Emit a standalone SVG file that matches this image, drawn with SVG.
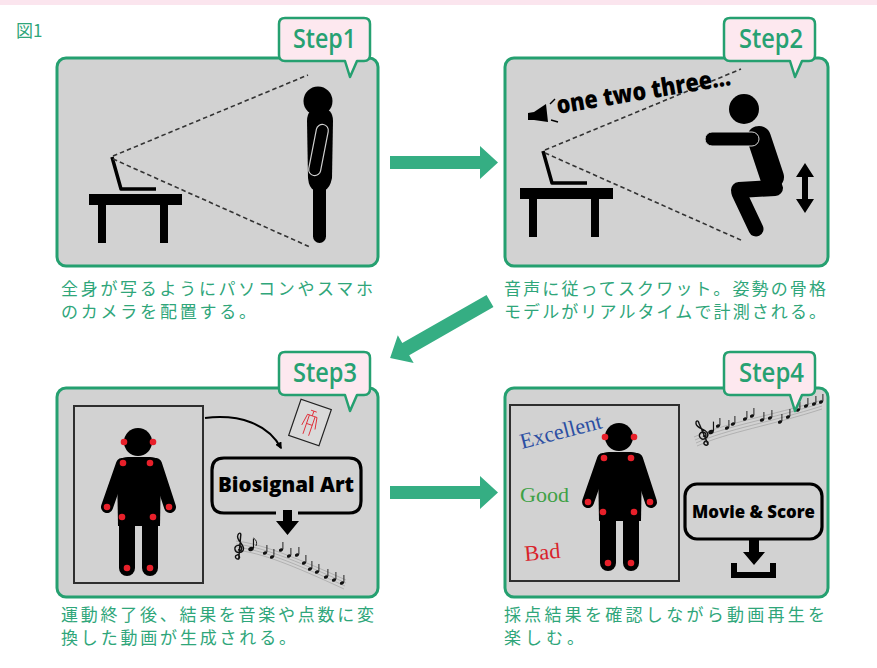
<svg xmlns="http://www.w3.org/2000/svg" xmlns:xlink="http://www.w3.org/1999/xlink" width="877" height="668" viewBox="0 0 877 668">
  <style>
    .panel { fill: #d2d2d2; stroke: #25a070; stroke-width: 3; }
    .tab { fill: #fde8ef; stroke: #25a070; stroke-width: 2.5; stroke-linejoin: round; }
    .step { font-family: "Open Sans", "Noto Sans", sans-serif; font-weight: 600; font-size: 27px; fill: #27a172; }
    .cap { font-family: "Noto Sans CJK JP", "Noto Sans", sans-serif; font-size: 17px; fill: #2fa67a; }
    .flow { fill: #35ae83; }
    .dash { stroke: #333; stroke-width: 1.6; stroke-dasharray: 4.5 3; fill: none; }
    .frame { fill: none; stroke: #2e2e2e; stroke-width: 2; }
    .box { fill: none; stroke: #000; stroke-width: 3.2; }
    .boxtxt { font-family: "Open Sans", "Liberation Sans", sans-serif; font-weight: 800; fill: #000; }
    .dot { fill: #e8202a; }
    .staff { fill: none; stroke: #9a9a9a; stroke-width: 0.6; }
    .stem { stroke: #111; stroke-width: 0.9; fill: none; }
    .serif { font-family: "Liberation Serif", "Times New Roman", serif; font-size: 22px; }
  </style>
  <defs>
    <!-- speech-bubble tab, origin at its top-left corner -->
    <path id="tabShape" d="M6,0 H85 Q91,0 91,6 V37 Q91,43 85,43 H78 L71,59 L66,43 H6 Q0,43 0,37 V6 Q0,0 6,0 Z"/>
    <!-- standing figure with joint markers -->
    <g id="marker-figure">
      <circle cx="138" cy="442" r="14" fill="#000"/>
      <path d="M117,468 Q117,457 128,457 H150 Q161,457 161,468 L160,526 H118 Z" fill="#000"/>
      <g stroke="#000" stroke-linecap="round" fill="none">
        <line x1="122" y1="464" x2="107" y2="507" stroke-width="12"/>
        <line x1="156" y1="464" x2="170" y2="507" stroke-width="12"/>
        <line x1="127" y1="520" x2="127" y2="568" stroke-width="16"/>
        <line x1="150" y1="520" x2="150" y2="568" stroke-width="16"/>
      </g>
      <g class="dot">
        <circle cx="124" cy="442" r="3.3"/>
        <circle cx="153" cy="442" r="3.3"/>
        <circle cx="123" cy="463" r="3.3"/>
        <circle cx="150" cy="463" r="3.3"/>
        <circle cx="107" cy="507" r="3.3"/>
        <circle cx="169" cy="507" r="3.3"/>
        <circle cx="122" cy="517" r="3.3"/>
        <circle cx="153" cy="517" r="3.3"/>
        <circle cx="127" cy="568" r="3.3"/>
        <circle cx="150" cy="568" r="3.3"/>
      </g>
    </g>
    <!-- desk with laptop -->
    <g id="desk">
      <rect x="0" y="0" width="93" height="11"/>
      <rect x="9" y="11" width="8" height="38"/>
      <rect x="71" y="11" width="8" height="38"/>
      <path d="M23,-37 L32,-5 H67" fill="none" stroke="#000" stroke-width="3.5" stroke-linejoin="round"/>
    </g>
    <!-- treble clef -->
    <path id="clef" d="M5,22 C2,23 0,19 3,18 C5,17 7,20 5,22 M5,22 L7,-2 C8,-6 5,-6 4,-3 C2,2 10,6 10,11 C10,16 2,17 1,12 C0,7 8,6 8,11 C8,14 5,14 5,12" fill="none" stroke="#111" stroke-width="1.5" stroke-linecap="round"/>
    <g id="note">
      <ellipse cx="0" cy="0" rx="2.2" ry="1.6" transform="rotate(-25)" fill="#111"/>
      <path class="stem" d="M1.9,-0.6 V-8"/>
    </g>
    <marker id="headBlk" viewBox="0 0 10 10" refX="8" refY="5" markerWidth="7" markerHeight="7" orient="auto" markerUnits="userSpaceOnUse">
      <path d="M0,0 L10,5 L0,10 Z" fill="#000"/>
    </marker>
  </defs>

  <rect x="0" y="0" width="877" height="668" fill="#fff"/>
  <rect x="0" y="0" width="877" height="5" fill="#fbe5ee"/>
  <text x="16" y="37" font-family="Noto Sans CJK JP, Noto Sans, sans-serif" font-size="17" fill="#2fa67a">図1</text>

  <!-- flow arrows between steps -->
  <g id="connectors">
    <path class="flow" d="M390,156 H480 V146 L498,162.5 L480,179 V169 H390 Z"/>
    <path class="flow" transform="translate(490,301) rotate(150.3)" d="M0,-7 H97 V-16 L115,0 L97,16 V7 H0 Z"/>
    <path class="flow" d="M390,486 H480 V476 L498,492.5 L480,509 V499 H390 Z"/>
  </g>

  <!-- Step 1: camera setup -->
  <g id="step1">
    <rect class="panel" x="57" y="58" width="321" height="208" rx="9"/>
    <use href="#desk" xlink:href="#desk" transform="translate(89,194)"/>
    <line class="dash" x1="113" y1="156" x2="308" y2="75"/>
    <line class="dash" x1="113" y1="159" x2="310" y2="247"/>
    <circle cx="318" cy="101" r="14.5"/>
    <path d="M307,121 Q307,108 320,108 Q333,108 333,121 L332,178 Q330,188 325,190 H314 Q309,188 308,178 Z"/>
    <rect x="313" y="178" width="13" height="65" rx="6.5"/>
    <rect x="-6" y="-26" width="12" height="52" rx="6" transform="translate(318.5,150) rotate(11)" fill="none" stroke="#cfcfcf" stroke-width="1.2"/>
    <use href="#tabShape" xlink:href="#tabShape" class="tab" transform="translate(279,18)"/>
    <text class="step" x="293" y="48" textLength="63" lengthAdjust="spacingAndGlyphs">Step1</text>
    <text class="cap" x="61" y="295" textLength="312" lengthAdjust="spacing">全身が写るようにパソコンやスマホ</text>
    <text class="cap" x="61" y="318" textLength="195" lengthAdjust="spacing">のカメラを配置する。</text>
  </g>

  <!-- Step 2: squat with voice guidance -->
  <g id="step2">
    <rect class="panel" x="505" y="58" width="323" height="208" rx="9"/>
    <use href="#desk" xlink:href="#desk" transform="translate(520,188)"/>
    <line class="dash" x1="545" y1="150" x2="741" y2="69"/>
    <line class="dash" x1="545" y1="153" x2="743" y2="241"/>
    <!-- speaker -->
    <polygon points="528,113 534,112 546,104 548,122 534,120 528,120"/>
    <line x1="550" y1="104" x2="555" y2="99" stroke="#000" stroke-width="1.5"/>
    <line x1="551" y1="120" x2="558" y2="122" stroke="#000" stroke-width="1.5"/>
    <text transform="translate(558,114) rotate(-9.5)" font-family="Open Sans, Liberation Sans, sans-serif" font-weight="800" font-size="25" textLength="176" lengthAdjust="spacingAndGlyphs">one two three...</text>
    <!-- squatting figure -->
    <circle cx="744" cy="109" r="15"/>
    <g stroke="#000" stroke-linecap="round" fill="none">
      <line x1="759" y1="138" x2="772" y2="177" stroke-width="24"/>
      <line x1="739" y1="190" x2="775" y2="188" stroke-width="16"/>
      <line x1="739" y1="193" x2="756" y2="229" stroke-width="15"/>
    </g>
    <rect x="705" y="132" width="54" height="14" rx="7" stroke="#d6d6d6" stroke-width="1"/>
    <path d="M805,163 L814,177 H808 V199 H814 L805,213 L796,199 H802 V177 H796 Z"/>
    <use href="#tabShape" xlink:href="#tabShape" class="tab" transform="translate(724,18)"/>
    <text class="step" x="739" y="48" textLength="64" lengthAdjust="spacingAndGlyphs">Step2</text>
    <text class="cap" x="504" y="295" textLength="322" lengthAdjust="spacing">音声に従ってスクワット。姿勢の骨格</text>
    <text class="cap" x="504" y="318" textLength="322" lengthAdjust="spacing">モデルがリアルタイムで計測される。</text>
  </g>

  <!-- Step 3: conversion to music -->
  <g id="step3">
    <rect class="panel" x="57" y="388" width="321" height="209" rx="9"/>
    <rect class="frame" x="74" y="406" width="129" height="177"/>
    <use href="#marker-figure" xlink:href="#marker-figure"/>
    <path d="M205,418 C240,414 268,424 281,448" fill="none" stroke="#000" stroke-width="2" marker-end="url(#headBlk)"/>
    <!-- skeleton sheet -->
    <g transform="translate(310,422.5) rotate(19)">
      <rect x="-16" y="-19" width="32" height="38" fill="#dadada" stroke="#222" stroke-width="1.2"/>
      <path d="M-3,-12 H3 M0,-12 V-7 M-5,-7 H5 M-5,-7 L-7,5 M5,-7 L7,5 M-3,-7 V13 M3,-7 V13 M-3,2 H3" fill="none" stroke="#e0303a" stroke-width="0.9"/>
    </g>
    <path class="box" d="M276,513 H224 Q212,513 212,501 V470 Q212,458 224,458 H349 Q361,458 361,470 V501 Q361,513 349,513 H298"/>
    <text class="boxtxt" x="218" y="492" font-size="21" textLength="136" lengthAdjust="spacingAndGlyphs">Biosignal Art</text>
    <path d="M283,510 H292 V521 H299 L287.5,535 L276,521 H283 Z"/>
    <!-- musical staff -->
    <g>
      <path class="staff" d="M236,541 C262,544 292,556 346,580"/>
      <path class="staff" d="M236,544 C262,547 292,559 346,583"/>
      <path class="staff" d="M236,547 C262,550 292,562 345,586"/>
      <path class="staff" d="M236,550 C262,553 292,565 344,589"/>
      <use href="#clef" xlink:href="#clef" transform="translate(234,538) scale(0.95)"/>
      <use href="#note" xlink:href="#note" transform="translate(251,549) scale(1.3)"/>
      <path class="stem" d="M253.5,538 Q258,541 256,546"/>
      <use href="#note" xlink:href="#note" transform="translate(265,553)"/>
      <use href="#note" xlink:href="#note" transform="translate(272,557)"/>
      <use href="#note" xlink:href="#note" transform="translate(281,550)"/>
      <use href="#note" xlink:href="#note" transform="translate(289,556)"/>
      <use href="#note" xlink:href="#note" transform="translate(297,555)"/>
      <use href="#note" xlink:href="#note" transform="translate(304,563)"/>
      <use href="#note" xlink:href="#note" transform="translate(310,569)"/>
      <use href="#note" xlink:href="#note" transform="translate(317,572)"/>
      <use href="#note" xlink:href="#note" transform="translate(326,577)"/>
      <use href="#note" xlink:href="#note" transform="translate(334,580)"/>
      <use href="#note" xlink:href="#note" transform="translate(342,583)"/>
    </g>
    <use href="#tabShape" xlink:href="#tabShape" class="tab" transform="translate(279,352)"/>
    <text class="step" x="293" y="382" textLength="64" lengthAdjust="spacingAndGlyphs">Step3</text>
    <text class="cap" x="61" y="621" textLength="313" lengthAdjust="spacing">運動終了後、結果を音楽や点数に変</text>
    <text class="cap" x="61" y="644" textLength="235" lengthAdjust="spacing">換した動画が生成される。</text>
  </g>

  <!-- Step 4: playback with score -->
  <g id="step4">
    <rect class="panel" x="505" y="388" width="323" height="209" rx="9"/>
    <rect class="frame" x="510" y="405" width="169" height="176"/>
    <text class="serif" transform="translate(522,449) rotate(-14.5)" fill="#2c4fa3" textLength="84" lengthAdjust="spacingAndGlyphs">Excellent</text>
    <text class="serif" x="520" y="502" fill="#3ea145" textLength="49" lengthAdjust="spacingAndGlyphs">Good</text>
    <text class="serif" transform="translate(525,561) rotate(-5)" fill="#d9232b" textLength="36" lengthAdjust="spacingAndGlyphs">Bad</text>
    <use href="#marker-figure" xlink:href="#marker-figure" transform="translate(481,-5)"/>
    <!-- musical staff -->
    <g>
      <path class="staff" d="M694,437 C725,423 770,416 822,400"/>
      <path class="staff" d="M695,440 C726,426 771,419 822,403"/>
      <path class="staff" d="M696,443 C727,429 772,422 822,406"/>
      <path class="staff" d="M697,446 C728,432 773,425 822,409"/>
      <use href="#clef" xlink:href="#clef" transform="translate(694,428) rotate(-28) scale(0.95)"/>
      <use href="#note" xlink:href="#note" transform="translate(711,432) scale(1.3)"/>
      <use href="#note" xlink:href="#note" transform="translate(718,426)"/>
      <use href="#note" xlink:href="#note" transform="translate(727,428)"/>
      <use href="#note" xlink:href="#note" transform="translate(733,424)"/>
      <use href="#note" xlink:href="#note" transform="translate(745,419)"/>
      <use href="#note" xlink:href="#note" transform="translate(752,416)"/>
      <use href="#note" xlink:href="#note" transform="translate(762,420)"/>
      <use href="#note" xlink:href="#note" transform="translate(770,418)"/>
      <use href="#note" xlink:href="#note" transform="translate(780,422)"/>
      <use href="#note" xlink:href="#note" transform="translate(788,417)"/>
      <use href="#note" xlink:href="#note" transform="translate(798,410)"/>
      <use href="#note" xlink:href="#note" transform="translate(806,406)"/>
      <use href="#note" xlink:href="#note" transform="translate(814,404)"/>
      <use href="#note" xlink:href="#note" transform="translate(821,402)"/>
    </g>
    <rect class="box" x="685" y="484" width="137" height="55" rx="12"/>
    <text class="boxtxt" x="692" y="518" font-size="18" textLength="123" lengthAdjust="spacingAndGlyphs">Movie &amp; Score</text>
    <path d="M749,539 H759 V552 H765 L754,565 L743,552 H749 Z"/>
    <path d="M731,563 H737 V572 H770 V563 H776 V578 H731 Z"/>
    <use href="#tabShape" xlink:href="#tabShape" class="tab" transform="translate(724,352)"/>
    <text class="step" x="739" y="382" textLength="65" lengthAdjust="spacingAndGlyphs">Step4</text>
    <text class="cap" x="504" y="621" textLength="321" lengthAdjust="spacing">採点結果を確認しながら動画再生を</text>
    <text class="cap" x="504" y="644" textLength="80" lengthAdjust="spacing">楽しむ。</text>
  </g>
</svg>
